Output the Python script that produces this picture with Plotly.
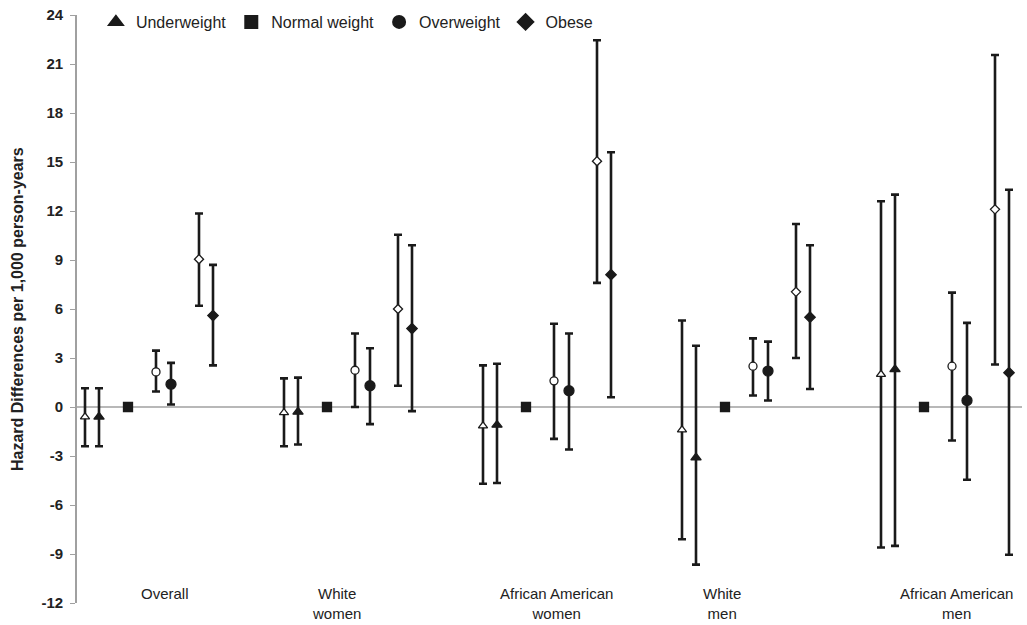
import plotly.graph_objects as go

# ---------------- data ----------------
groups = ["Overall", "White<br>women", "African American<br>women", "White<br>men", "African American<br>men"]

# Underweight: unadjusted (open) and adjusted (filled)
uw_open = [-0.6, -0.35, -1.15, -1.4, 2.0]
uw_open_lo = [-2.4, -2.4, -4.7, -8.1, -8.6]
uw_open_hi = [1.15, 1.75, 2.55, 5.3, 12.6]
uw_adj = [-0.6, -0.3, -1.1, -3.1, 2.3]
uw_adj_lo = [-2.4, -2.3, -4.65, -9.65, -8.5]
uw_adj_hi = [1.15, 1.8, 2.65, 3.75, 13.0]

# Normal weight (reference)
normal = [0, 0, 0, 0, 0]

# Overweight
ow_open = [2.15, 2.25, 1.6, 2.5, 2.5]
ow_open_lo = [0.95, 0.0, -1.95, 0.7, -2.05]
ow_open_hi = [3.45, 4.5, 5.1, 4.2, 7.0]
ow_adj = [1.4, 1.3, 1.0, 2.2, 0.4]
ow_adj_lo = [0.15, -1.05, -2.6, 0.4, -4.45]
ow_adj_hi = [2.7, 3.6, 4.5, 4.0, 5.15]

# Obese
ob_open = [9.05, 6.0, 15.05, 7.05, 12.1]
ob_open_lo = [6.2, 1.3, 7.6, 3.0, 2.6]
ob_open_hi = [11.85, 10.55, 22.45, 11.2, 21.55]
ob_adj = [5.6, 4.8, 8.1, 5.5, 2.1]
ob_adj_lo = [2.55, -0.25, 0.6, 1.1, -9.05]
ob_adj_hi = [8.7, 9.9, 15.6, 9.9, 13.3]

y_ticks = [24, 21, 18, 15, 12, 9, 6, 3, 0, -3, -6, -9, -12]
y_title = "Hazard Differences per 1,000 person-years"

# ---------------- layout helpers ----------------
W, H = 1027, 625
ML, MR, MT, MB = 77, 5, 5, 22
PLOT_W = W - ML - MR
PLOT_H = H - MT - MB
AXIS_TOP_PX = 15  # top of y axis in page pixels

GROUP_PX = 199.0
def off(px):
    return px / GROUP_PX

gx = list(range(len(groups)))
INK = "#1a1a1a"
TEXT = "#222222"
FONT = "Arial, Liberation Sans, sans-serif"

def err(val, lo, hi):
    return dict(type="data", symmetric=False,
                array=[h - v for v, h in zip(val, hi)],
                arrayminus=[v - l for v, l in zip(val, lo)],
                color=INK, thickness=2.6, width=4)

fig = go.Figure()

def add(val, lo, hi, shift, symbol, size, filled, name, legend):
    x = [g + off(shift) for g in gx]
    fig.add_trace(go.Scatter(
        x=x, y=val, mode="markers", name=name, showlegend=legend,
        error_y=err(val, lo, hi) if lo is not None else None,
        marker=dict(symbol=symbol, size=size,
                    color=INK if filled else "white",
                    line=dict(color=INK, width=1.3)),
    ))

add(uw_open, uw_open_lo, uw_open_hi, -43, "triangle-up", 8, False, "Underweight (unadj.)", False)
add(uw_adj, uw_adj_lo, uw_adj_hi, -29, "triangle-up", 9, True, "Underweight", True)
add(normal, None, None, 0, "square", 9, True, "Normal weight", True)
add(ow_open, ow_open_lo, ow_open_hi, 28, "circle", 8, False, "Overweight (unadj.)", False)
add(ow_adj, ow_adj_lo, ow_adj_hi, 43, "circle", 10, True, "Overweight", True)
add(ob_open, ob_open_lo, ob_open_hi, 71, "diamond", 7, False, "Obese (unadj.)", False)
add(ob_adj, ob_adj_lo, ob_adj_hi, 85, "diamond", 8, True, "Obese", True)

label_shift = [37, 9, 30, -3, 32]
for g, lab, s in zip(gx, groups, label_shift):
    fig.add_annotation(x=g + off(s), y=-10.75, xref="x", yref="y", text=lab,
                       showarrow=False, yanchor="top", align="center",
                       font=dict(family=FONT, size=15, color=TEXT))

# y-axis title as rotated annotation
fig.add_annotation(x=(17 - ML) / PLOT_W, y=0.5, xref="paper", yref="y domain",
                   text="<b>" + y_title + "</b>", textangle=-90, showarrow=False,
                   xanchor="center", yanchor="middle",
                   font=dict(family=FONT, size=16, color=TEXT))

fig.add_shape(type="line", xref="paper", yref="y", x0=0, x1=1, y0=0, y1=0,
              line=dict(color="#a0a0a0", width=1.6), layer="below")

fig.update_layout(
    width=W, height=H,
    margin=dict(l=ML, r=MR, t=MT, b=MB, autoexpand=False),
    paper_bgcolor="white", plot_bgcolor="white",
    font=dict(family=FONT, color=TEXT),
    showlegend=True,
    legend=dict(orientation="h", x=0.02, xanchor="left", y=1.0, yanchor="top",
                font=dict(family=FONT, size=16, color=TEXT), bgcolor="rgba(0,0,0,0)",
                itemsizing="constant"),
    xaxis=dict(range=[off(ML - 128), off(W - MR - 128)], showgrid=False, zeroline=False,
               showline=False, showticklabels=False, ticks=""),
    yaxis=dict(range=[-12, 24], domain=[0, 1 - (AXIS_TOP_PX - MT) / PLOT_H],
               tickvals=y_ticks, ticktext=[str(t) for t in y_ticks],
               showgrid=False, zeroline=False, showline=True, linecolor="#a0a0a0",
               linewidth=1.6, ticks="outside", ticklen=5, tickcolor="#a0a0a0",
               automargin=False, ticklabelstandoff=4,
               tickfont=dict(family=FONT, size=15, color=TEXT, weight="bold")),
)

fig.write_html("out.html", config={"displayModeBar": False},
               post_script="document.body.style.margin='0';")
